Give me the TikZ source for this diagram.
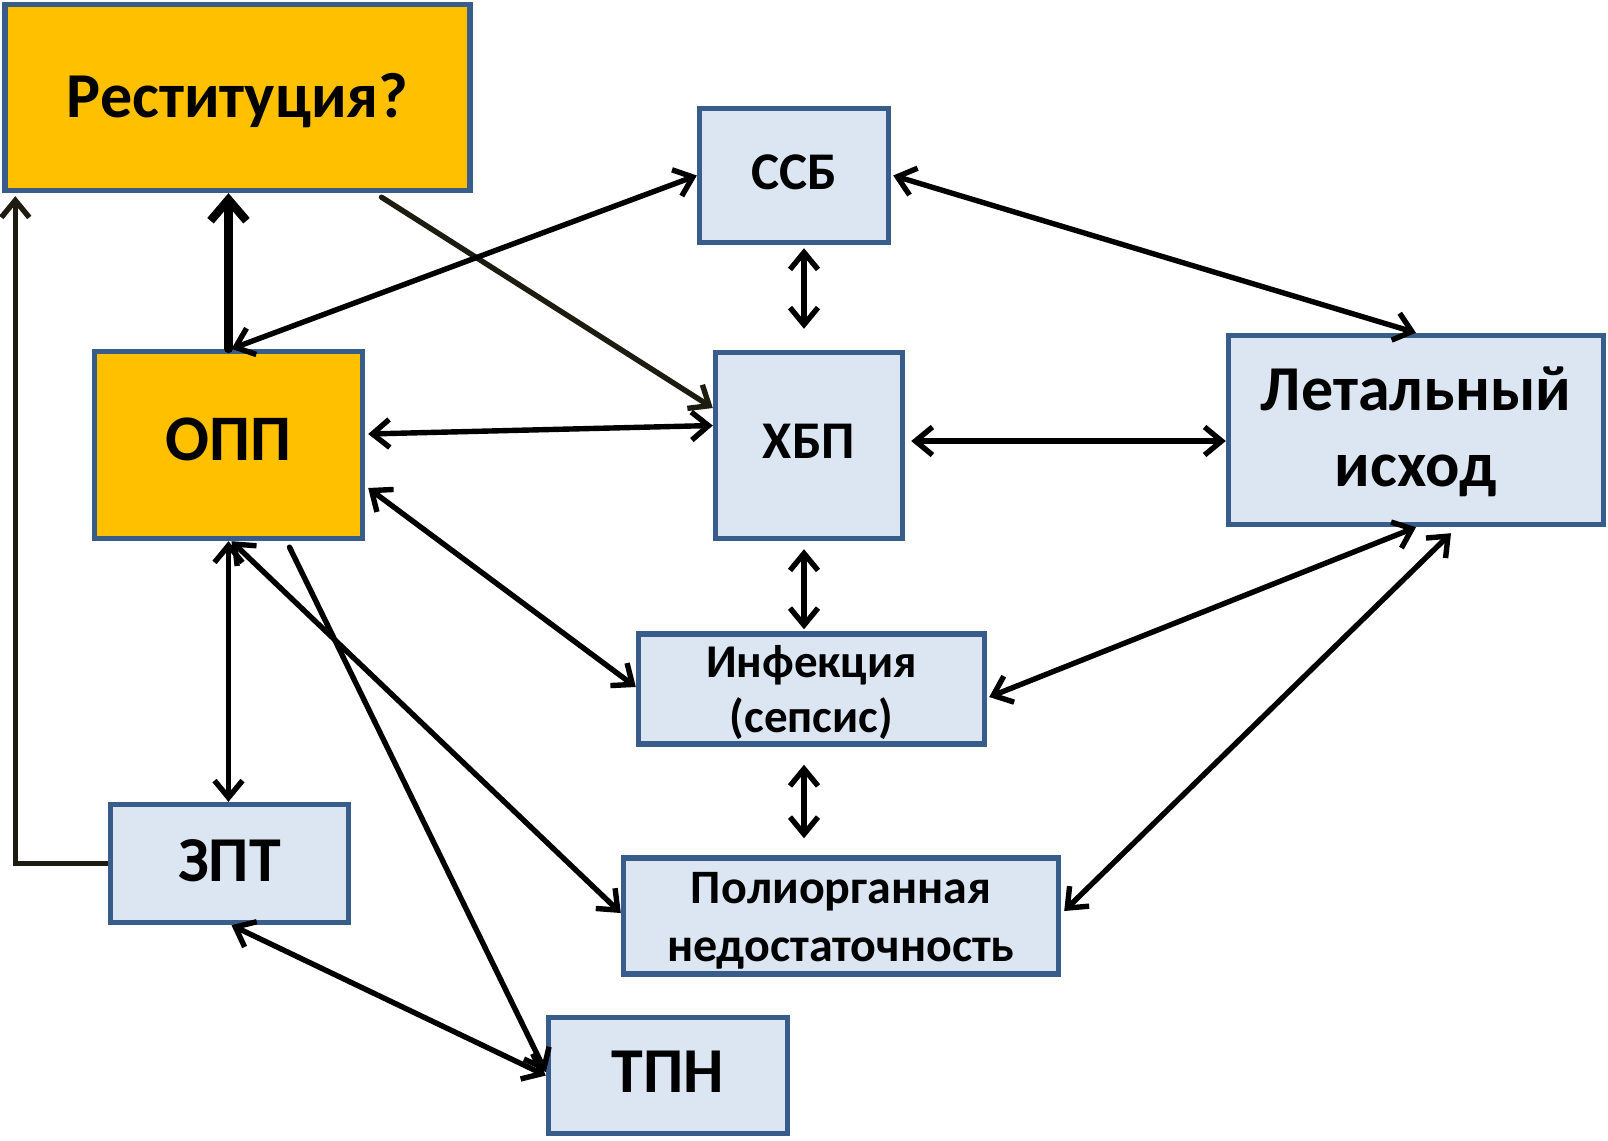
\documentclass[tikz,border=0pt]{standalone}
\usepackage{fontspec}
\setmainfont{Carlito}
\usetikzlibrary{arrows.meta}
\definecolor{boxblue}{RGB}{220,230,242}
\definecolor{boxorange}{RGB}{255,192,0}
\definecolor{boxborder}{RGB}{56,93,138}
\definecolor{darkline}{RGB}{30,28,17}
\tikzset{
  bt/.tip={Straight Barb[length=17pt, width=28pt, line width=5.4pt]},
  btthick/.tip={Straight Barb[length=21pt, width=36pt, line width=8.5pt]},
  box/.style={draw=boxborder, line width=5.4pt, fill=boxblue, inner sep=0pt, align=center, font=\bfseries},
  obox/.style={box, fill=boxorange},
  con/.style={line width=5.4pt, draw=black, line cap=round},
  both/.style={con, bt-bt},
  one/.style={con, -bt},
}
\newcommand{\fs}[2]{\fontsize{#1}{#2}\selectfont}
\newcommand{\lowerby}[2]{\raisebox{-#1}[\height][\depth]{\begin{tabular}{@{}c@{}}#2\end{tabular}}}
\begin{document}
\begin{tikzpicture}[x=1pt, y=-1pt]
\useasboundingbox (0,0) rectangle (1608,1140);
\fill[white] (0,0) rectangle (1608,1140);

\node[obox, minimum width=465pt, minimum height=186pt, font=\bfseries\fs{64}{74}] (rest) at (237.5,97.5) {\lowerby{5pt}{Реституция?}};
\node[obox, minimum width=268pt, minimum height=187pt, font=\bfseries\fs{65}{74}] (opp) at (228.5,445) {\lowerby{1pt}{ОПП}};
\node[box, minimum width=189pt, minimum height=134pt, font=\bfseries\fs{53}{60}] (ssb) at (794,175.5) {\lowerby{2pt}{ССБ}};
\node[box, minimum width=187pt, minimum height=186pt, font=\bfseries\fs{53}{60}] (hbp) at (809,445.5) {\lowerby{1pt}{ХБП}};
\node[box, minimum width=375pt, minimum height=189pt, font=\bfseries\fs{64}{76}] (let) at (1416,430) {\lowerby{3pt}{Летальный\\исход}};
\node[box, minimum width=346pt, minimum height=103pt, font=\bfseries\fs{47}{55}] (inf) at (811.5,689) {\lowerby{5pt}{Инфекция\\(сепсис)}};
\node[box, minimum width=435pt, minimum height=103pt, font=\bfseries\fs{48}{58}] (pol) at (841,916) {\lowerby{5pt}{Полиорганная\\недостаточность}};
\node[box, minimum width=238pt, minimum height=118pt, font=\bfseries\fs{64}{74}] (zpt) at (229.5,863.5) {\lowerby{3pt}{ЗПТ}};
\node[box, minimum width=239pt, minimum height=116pt, font=\bfseries\fs{64}{74}] (tpn) at (668,1075.5) {\lowerby{2pt}{ТПН}};

% loop from ZPT to Restitution
\draw[con, draw=darkline, line cap=butt, line join=miter, -bt]
  (zpt.west) -| ([xshift=13pt, yshift=-3pt]rest.south west);
% OPP -> Restitution (thick)
\draw[con, line width=8.5pt, -btthick]
  (opp.north) -- (opp.north |- rest.south);
% Restitution -> HBP
\draw[con, draw=darkline, -bt] ([shift={(144pt,-4pt)}]rest.south) -- ([yshift=37.5pt]hbp.west);
% OPP <-> SSB
\draw[both] ([xshift=3pt]opp.north) -- (ssb.west);
% SSB <-> Lethal
\draw[both] ([xshift=2pt]ssb.east) -- (let.north);
% SSB <-> HBP
\draw[both] ([shift={(10pt,-3pt)}]ssb.south) -- ([shift={(-5pt,21pt)}]hbp.north);
% OPP <-> HBP
\draw[both] ([shift={(3pt,11pt)}]opp.east) -- ([yshift=20pt]hbp.west);
% HBP <-> Lethal
\draw[both] ([shift={(6pt,4.5pt)}]hbp.east) -- ([yshift=-11pt]let.west);
% HBP <-> Infection
\draw[both] ([shift={(-5pt,-8pt)}]hbp.south) -- ([shift={(-7.5pt,2pt)}]inf.north);
% OPP <-> Infection
\draw[both] ([shift={(3pt,-43pt)}]opp.east) -- ([yshift=2pt]inf.west);
% Lethal <-> Infection
\draw[both] (let.south) -- ([shift={(2pt,-8pt)}]inf.east);
% Lethal <-> Polyorgan
\draw[both] ([shift={(35pt,-6pt)}]let.south) -- ([shift={(3pt,5pt)}]pol.east);
% Infection <-> Polyorgan
\draw[both] ([shift={(-7.5pt,-18pt)}]inf.south) -- ([shift={(-37pt,17pt)}]pol.north);
% OPP <-> ZPT
\draw[both] (opp.south) -- (opp.south |- zpt.north);
% OPP <-> Polyorgan
\draw[both] ([xshift=3pt]opp.south) -- ([yshift=3pt]pol.west);
% OPP -> TPN
\draw[one] ([shift={(61pt,-6pt)}]opp.south) -- ([yshift=3.5pt]tpn.west);
% ZPT <-> TPN
\draw[both] ([xshift=2pt]zpt.south) -- (tpn.west);
\end{tikzpicture}
\end{document}
